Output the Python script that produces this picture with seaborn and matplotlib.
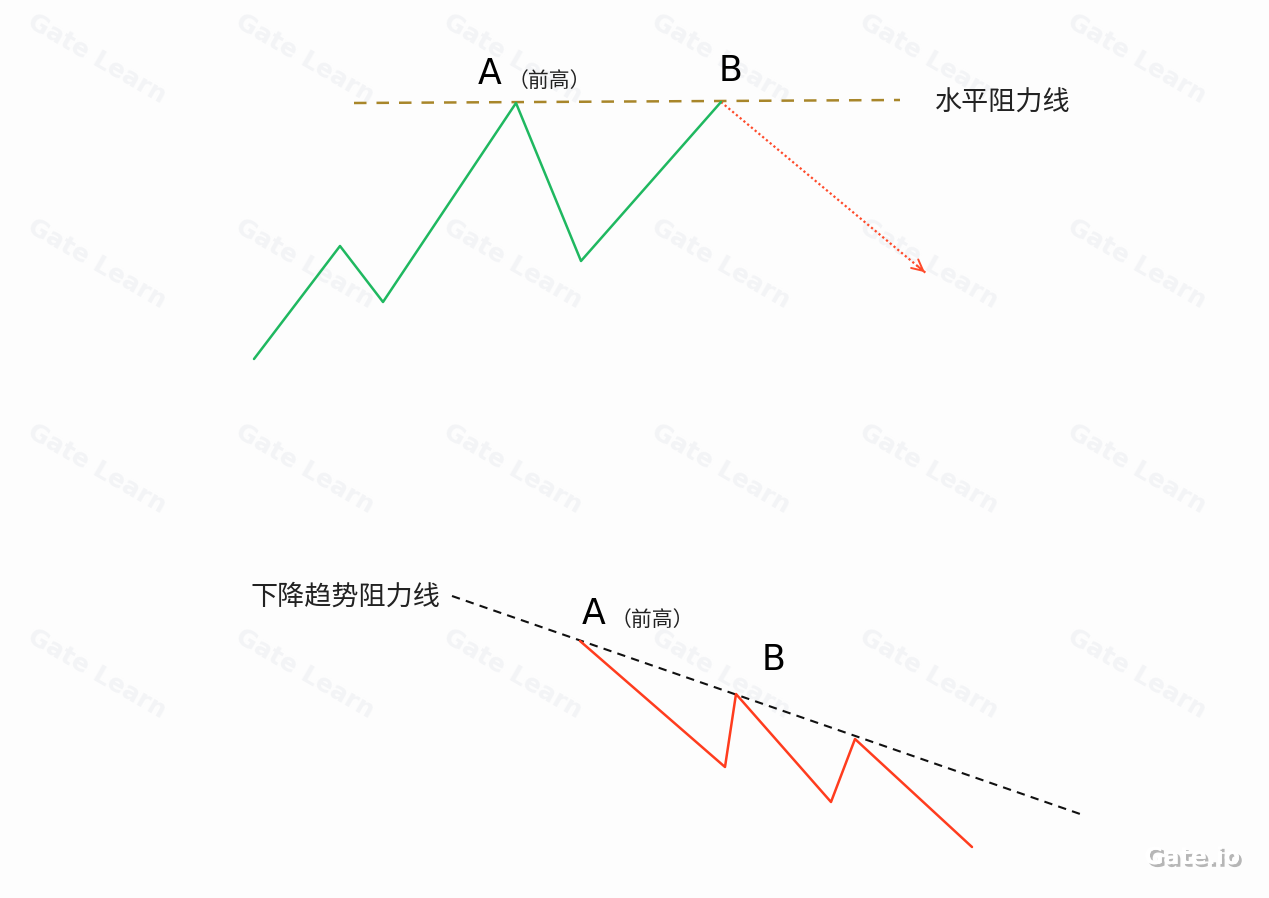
import numpy as np
import pandas as pd
import matplotlib
matplotlib.use("Agg")
import matplotlib.pyplot as plt
import matplotlib.patheffects as pe
import seaborn as sns

# --- datos (coordenadas del esquema, eje y hacia abajo) ---
verde_x = [254, 340, 383, 516, 581, 721]
verde_y = [359, 246, 302, 103, 261, 102]

resist_h_x = [354, 900]
resist_h_y = [103, 100]

flecha_x = [721, 927]
flecha_y = [102, 274]

rojo_x = [580, 725, 736, 831, 855, 972]
rojo_y = [641, 767, 694, 802, 739, 847]

resist_d_x = [452, 1083]
resist_d_y = [596, 815]

etiquetas = ["A", "（前高）", "B", "水平阻力线", "下降趋势阻力线", "A", "（前高）", "B"]
etiq_x = [490, 549, 731, 1003, 345, 594, 652, 774]
etiq_y = [74, 81, 71, 103, 597, 614, 620, 660]
etiq_tam = [25, 15, 25, 19.5, 19.5, 25, 15, 25]

sns.set_theme(style="white")
plt.rcParams['font.family'] = ['Noto Sans CJK SC', 'DejaVu Sans']

fig = plt.figure(figsize=(12.69, 8.98), dpi=100)
ax = fig.add_axes([0, 0, 1, 1])
ax.set_xlim(0, 1269)
ax.set_ylim(898, 0)
ax.axis("off")
fig.patch.set_facecolor("#fdfdfd")

# marca de agua
for wx in [30, 238, 446, 654, 862, 1070]:
    for wy in [20, 225, 430, 635]:
        ax.text(wx, wy, "Gate Learn", rotation=-30, rotation_mode="anchor",
                fontsize=18, color="#f3f4f6", fontweight="bold",
                ha="left", va="center", zorder=0, family="DejaVu Sans")

df_verde = pd.DataFrame({"x": verde_x, "y": verde_y})
sns.lineplot(data=df_verde, x="x", y="y", sort=False, color="#1fb860", lw=1.8, ax=ax, zorder=3)

ax.plot(resist_h_x, resist_h_y, ls=(0, (5, 4)), color="#a8862a", lw=1.8, zorder=2)

ax.plot(flecha_x, flecha_y, ls=(0, (1, 1.2)), color="#ff4a2a", lw=1.6, zorder=2)
ax.annotate("", xy=(flecha_x[1], flecha_y[1]), xytext=(flecha_x[1] - 12, flecha_y[1] - 10),
            arrowprops=dict(arrowstyle="->", color="#ff4a2a", lw=1.4, mutation_scale=20))

df_rojo = pd.DataFrame({"x": rojo_x, "y": rojo_y})
sns.lineplot(data=df_rojo, x="x", y="y", sort=False, color="#ff3c1e", lw=1.8, ax=ax, zorder=3)

ax.plot(resist_d_x, resist_d_y, ls=(0, (4, 3)), color="#111111", lw=1.5, zorder=2)

for t, x, y, s in zip(etiquetas, etiq_x, etiq_y, etiq_tam):
    ax.text(x, y, t, fontsize=s, color="#000000" if s == 25 else "#222222",
            ha="center", va="center", zorder=4,
            family="DejaVu Sans" if s == 25 else ['Noto Sans CJK SC', 'DejaVu Sans'])

logo = ax.text(1192, 857, "Gate.io", fontsize=17, fontweight="bold", color="white",
               ha="center", va="center", family="DejaVu Sans", zorder=4)
logo.set_path_effects([pe.withSimplePatchShadow(offset=(2, -2), shadow_rgbFace="#888888", alpha=0.6), pe.Normal()])

fig.savefig("out.png", dpi=100, facecolor=fig.get_facecolor())
